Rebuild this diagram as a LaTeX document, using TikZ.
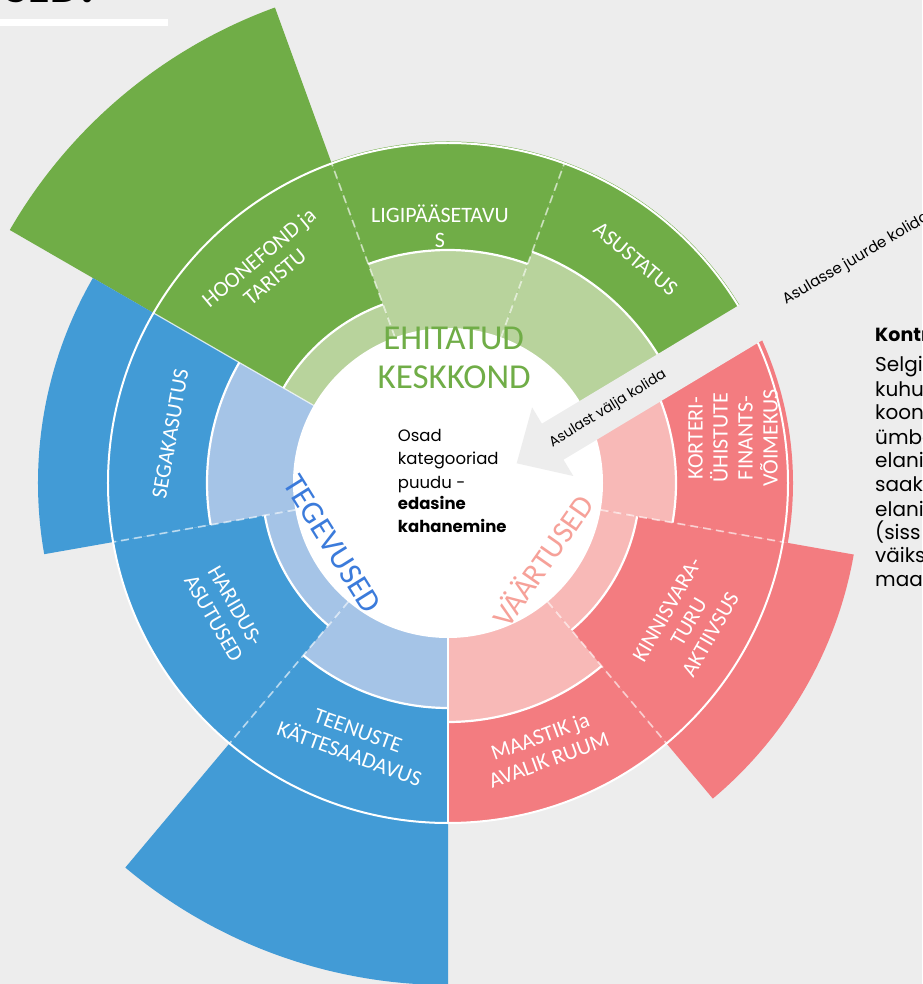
\documentclass[tikz,border=0pt]{standalone}
\usepackage{fontspec}
\setmainfont{Poppins}
\newfontfamily\labfont{Carlito}
\definecolor{bg}{HTML}{EDEDED}
\definecolor{dgreen}{HTML}{70AD47}
\definecolor{lgreen}{HTML}{B8D39C}
\definecolor{dblue}{HTML}{429BD6}
\definecolor{lblue}{HTML}{A5C4E7}
\definecolor{dred}{HTML}{F37C80}
\definecolor{lred}{HTML}{F8B9B7}
\definecolor{catblue}{HTML}{3B7BDB}
\definecolor{catred}{HTML}{F6A199}
\newcommand{\mysector}[5]{\fill[#1] (#2:#4pt) arc[start angle=#2, end angle=#3, radius=#4pt] -- (#3:#5pt) arc[start angle=#3, end angle=#2, radius=#5pt] -- cycle;}
\newcommand{\myarc}[3]{\draw[sepline] (#1:#3pt) arc[start angle=#1, end angle=#2, radius=#3pt];}
\tikzset{
 sepline/.style={white, line width=2.2pt},
 dashsep/.style={white, opacity=0.6, line width=1.7pt, dash pattern=on 8pt off 5pt},
 seclabel/.style={text=white, font=\labfont\fontsize{22}{25}\selectfont, align=center, inner sep=0pt},
 catlabel/.style={font=\labfont\fontsize{35}{38.3}\selectfont, inner sep=0pt},
 ctext/.style={font=\fontsize{16.5}{22.7}\selectfont, anchor=base west, inner sep=0pt},
 rtext/.style={font=\fontsize{20}{24}\selectfont, anchor=base west, inner sep=0pt},
 atext/.style={font=\fontsize{14}{16}\selectfont, inner sep=0pt},
}
\begin{document}
\begin{tikzpicture}[x=1pt,y=1pt]
\useasboundingbox (-448,-501) rectangle (474,483);
\clip (-448,-501) rectangle (474,483);
\fill[bg] (-448,-501) rectangle (474,483);
% title remnants
\node[font=\bfseries\fontsize{40}{40}\selectfont, anchor=base east, inner sep=0pt] (title) at (-347,480) {SED?};
\fill[white] (-448,464) rectangle (-280,456.5);
% dark sectors
\mysector{dgreen}{30}{70}{100}{341.5}
\mysector{dgreen}{70}{110}{100}{341.5}
\mysector{dgreen}{110}{150}{100}{506}
\mysector{dblue}{150}{190}{100}{410}
\mysector{dblue}{190}{230}{100}{340}
\mysector{dblue}{230}{270}{100}{502}
\mysector{dred}{270}{310}{100}{340}
\mysector{dred}{310}{350}{100}{412}
\mysector{dred}{350}{390}{100}{345}
% light sectors
\mysector{lgreen}{30}{70}{100}{246}
\mysector{lgreen}{70}{110}{100}{233}
\mysector{lgreen}{110}{150}{100}{190}
\mysector{lblue}{150}{190}{100}{241}
\mysector{lblue}{190}{230}{100}{186}
\mysector{lblue}{230}{270}{100}{225}
\mysector{lred}{270}{310}{100}{239}
\mysector{lred}{310}{350}{100}{192}
\mysector{lred}{350}{390}{100}{228}
% light/dark boundaries
\myarc{30}{70}{246}
\myarc{70}{110}{233}
\myarc{110}{150}{190}
\myarc{150}{190}{241}
\myarc{190}{230}{186}
\myarc{230}{270}{225}
\myarc{270}{310}{239}
\myarc{310}{350}{192}
\myarc{350}{390}{228}
% separators
\foreach \a in {70,110,190,230,310,350} \draw[dashsep] (\a:155pt) -- (\a:340pt);
\draw[white, opacity=0.75, line width=1.2pt] (150:155pt) -- (150:340pt);
\draw[white, line width=2pt] (270:155pt) -- (270:340pt);
\draw[white, line width=2pt] (30:155pt) -- (30:340pt);
\draw[white, line width=2pt] (0,0) circle[radius=340pt];
\fill[white] (0,0) circle[radius=155pt];
% category labels
\node[catlabel, text=dgreen, anchor=base] (eh) at (5.7,133) {EHITATUD};
\node[catlabel, text=dgreen, anchor=base] (kk) at (6.2,94.7) {KESKKOND};
\node[catlabel, text=catblue, rotate=-58, font=\labfont\fontsize{32}{36}\selectfont] (teg) at (-115.5,-61.2) {TEGEVUSED};
\node[catlabel, text=catred, rotate=55, font=\labfont\fontsize{31}{36}\selectfont] (vaa) at (93.5,-77.5) {VÄÄRTUSED};
% centre text
\node[ctext] (c1) at (-50.3,41.3) {Osad};
\node[ctext] (c2) at (-50.3,18) {kategooriad};
\node[ctext] (c3) at (-50.3,-5.3) {puudu -};
\node[ctext, font=\bfseries\fontsize{16.5}{22.7}\selectfont] (c4) at (-50.3,-27) {edasine};
\node[ctext, font=\bfseries\fontsize{16.5}{22.7}\selectfont] (c5) at (-50.3,-49.3) {kahanemine};
% sector labels
\node[seclabel, rotate=-40] (asu) at (50:292pt) {ASUSTATUS};
\node[seclabel] (lig) at (-8,257) {LIGIPÄÄSETAVU\\S};
\node[seclabel, rotate=40] (hoo) at (130:282pt) {HOONEFOND ja\\TARISTU};
\node[seclabel, rotate=80] (seg) at (170:282pt) {SEGAKASUTUS};
\node[seclabel, rotate=-60] (har) at (210:258pt) {HARIDUS-\\ASUTUSED};
\node[seclabel, rotate=-20] (tee) at (250:276pt) {TEENUSTE\\KÄTTESAADAVUS};
\node[seclabel, rotate=20] (maa) at (290:282pt) {MAASTIK ja\\AVALIK RUUM};
\node[seclabel, rotate=60] (kin) at (330:278pt) {KINNISVARA-\\TURU\\AKTIIVSUS};
\node[seclabel, rotate=90] (kor) at (285,45) {KORTERI-\\ÜHISTUTE\\FINANTS-\\VÕIMEKUS};
% arrow
\fill[bg] (68.7,19.7) -- (84.1,75.6) -- (93.9,59.3) -- (359.6,219) -- (381.2,183) -- (115.5,23.3) -- (125.3,7) -- cycle;
\node[atext, rotate=31.5] (out) at (160,74) {Asulast välja kolida};
\node[atext, rotate=30.6, anchor=base west, font=\fontsize{15}{17}\selectfont] (in) at (338,178) {Asulasse juurde kolida};
% right text
\node[rtext, font=\bfseries\fontsize{19}{24}\selectfont] (k0) at (427,141.3) {Kontr};
\node[rtext] (k1) at (427,111.3) {Selgi};
\node[rtext] (k2) at (427,86.3) {kuhu};
\node[rtext] (k3) at (427,63) {koon};
\node[rtext] (k4) at (427,38.5) {ümbe};
\node[rtext] (k5) at (427,15) {elani};
\node[rtext] (k6) at (427,-9) {saak};
\node[rtext] (k7) at (427,-33.7) {elani};
\node[rtext] (k8) at (427,-57) {(siss};
\node[rtext] (k9) at (427,-80) {väiks};
\node[rtext] (k10) at (427,-103.7) {maap};
\end{tikzpicture}
\end{document}
